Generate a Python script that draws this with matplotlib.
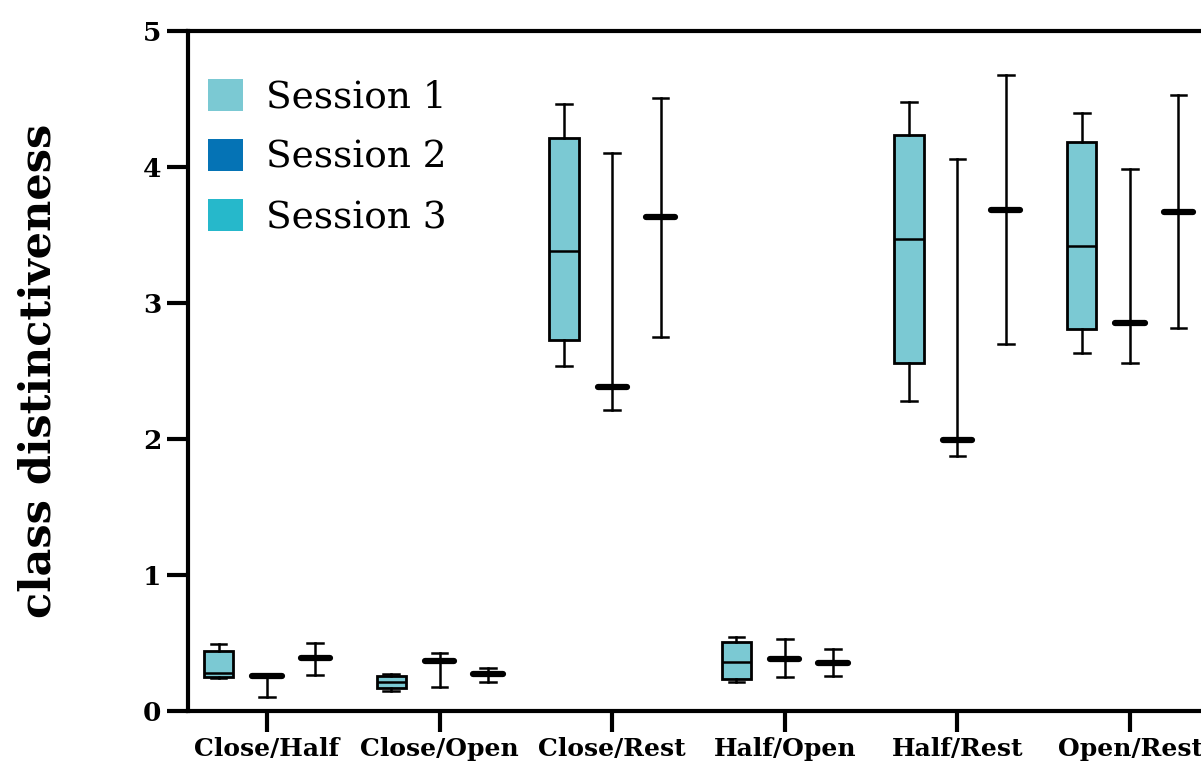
import matplotlib
matplotlib.use("Agg")
import matplotlib.pyplot as plt
from matplotlib.patches import Patch

plt.rcParams['font.family'] = ['DejaVu Serif']

categories = ["Close/Half", "Close/Open", "Close/Rest", "Half/Open", "Half/Rest", "Open/Rest"]
sessions = ["Session 1", "Session 2", "Session 3"]
colors = ["#7BC9D3", "#0573B5", "#26B8CB"]

# per session: lists of (whislo, q1, med, q3, whishi) per category
s1_lo = [0.243, 0.149, 2.537, 0.211, 2.279, 2.630]
s1_q1 = [0.252, 0.167, 2.728, 0.235, 2.561, 2.806]
s1_med = [0.280, 0.216, 3.382, 0.363, 3.468, 3.422]
s1_q3 = [0.443, 0.260, 4.216, 0.505, 4.235, 4.186]
s1_hi = [0.493, 0.272, 4.463, 0.546, 4.475, 4.400]

s2_lo = [0.100, 0.174, 2.213, 0.248, 1.877, 2.557]
s2_med = [0.257, 0.368, 2.380, 0.382, 1.993, 2.851]
s2_hi = [0.265, 0.424, 4.105, 0.529, 4.056, 3.983]

s3_lo = [0.265, 0.216, 2.748, 0.260, 2.696, 2.814]
s3_med = [0.387, 0.270, 3.630, 0.355, 3.684, 3.672]
s3_hi = [0.502, 0.314, 4.510, 0.454, 4.676, 4.529]

fig = plt.figure(figsize=(12.01, 7.67), dpi=100)
ax = fig.add_axes([188/1201, 56/767, 1021/1201, 680/767])

offsets = [-0.28, 0.0, 0.28]
bw = 0.17
capw = 0.09

def stats(lo, q1, med, q3, hi):
    return [dict(whislo=a, q1=b, med=c, q3=d, whishi=e, fliers=[])
            for a, b, c, d, e in zip(lo, q1, med, q3, hi)]

xs = list(range(len(categories)))

# Session 1: full boxes
ax.bxp(stats(s1_lo, s1_q1, s1_med, s1_q3, s1_hi),
       positions=[x + offsets[0] for x in xs], widths=bw, capwidths=capw,
       patch_artist=True, showfliers=False,
       boxprops=dict(facecolor=colors[0], edgecolor='black', linewidth=2.0),
       medianprops=dict(color='black', linewidth=1.8),
       whiskerprops=dict(color='black', linewidth=1.8),
       capprops=dict(color='black', linewidth=1.8))

# Sessions 2 and 3: collapsed boxes, thick median
for k, (lo, med, hi) in enumerate([(s2_lo, s2_med, s2_hi), (s3_lo, s3_med, s3_hi)], start=1):
    ax.bxp(stats(lo, med, med, med, hi),
           positions=[x + offsets[k] for x in xs], widths=bw, capwidths=capw,
           patch_artist=True, showfliers=False,
           boxprops=dict(facecolor=colors[k], edgecolor='black', linewidth=1.0),
           medianprops=dict(color='black', linewidth=4.5, solid_capstyle='round'),
           whiskerprops=dict(color='black', linewidth=1.8),
           capprops=dict(color='black', linewidth=1.8))

ax.set_xlim(-0.457, 5.457)
ax.set_ylim(0, 5)
ax.set_xticks(xs)
ax.set_xticklabels(categories, fontsize=18, fontweight='bold')
ax.set_yticks([0, 1, 2, 3, 4, 5])
ax.set_yticklabels(['0', '1', '2', '3', '4', '5'], fontsize=19, fontweight='bold')
ax.tick_params(axis='both', direction='out', length=15, width=3, pad=4)
for sp in ax.spines.values():
    sp.set_linewidth(3)
ax.spines['right'].set_visible(False)

ax.set_ylabel("class distinctiveness", fontsize=31, fontweight='bold')
ax.yaxis.set_label_coords(-0.126, 0.5)

handles = [Patch(facecolor=c, edgecolor='none', label=s) for c, s in zip(colors, sessions)]
ax.legend(handles=handles, loc='upper left', bbox_to_anchor=(-0.006, 0.968), frameon=False,
          fontsize=27, handlelength=0.93, handleheight=0.93, handletextpad=0.62,
          labelspacing=0.62, borderaxespad=0.5, borderpad=0.2)

fig.savefig("out.png", dpi=100)
